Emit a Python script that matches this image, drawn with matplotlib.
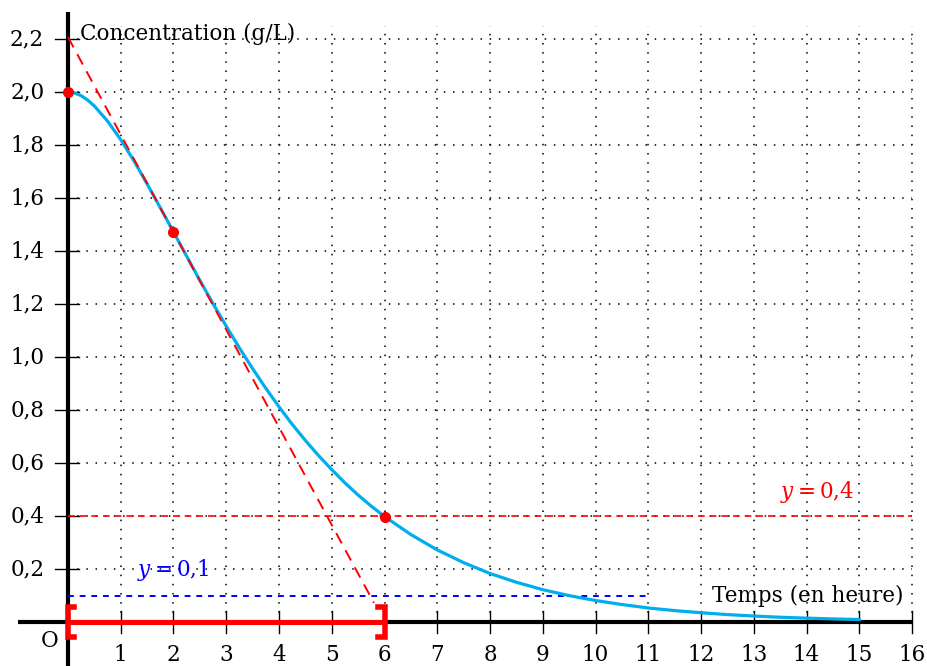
import matplotlib
matplotlib.use("Agg")
import matplotlib.pyplot as plt

# Data
t_vals = [0, 0.125, 0.25, 0.375, 0.5, 0.75, 1, 1.25, 1.5, 1.75, 2, 2.25, 2.5, 2.75,
          3, 3.25, 3.5, 3.75, 4, 4.25, 4.5, 4.75, 5, 5.25, 5.5, 5.75, 6, 6.5, 7,
          7.5, 8, 8.5, 9, 9.5, 10, 10.5, 11, 11.5, 12, 12.5, 13, 13.5, 14, 14.5, 15]
c_vals = [2.000, 1.996, 1.986, 1.969, 1.947, 1.890, 1.820, 1.740, 1.653, 1.563,
          1.472, 1.380, 1.289, 1.201, 1.116, 1.034, 0.956, 0.882, 0.812, 0.746,
          0.685, 0.628, 0.575, 0.525, 0.479, 0.437, 0.398, 0.330, 0.272, 0.224,
          0.183, 0.150, 0.122, 0.0995, 0.081, 0.066, 0.053, 0.043, 0.035, 0.028,
          0.0225, 0.018, 0.0146, 0.0117, 0.0094]
tangent_x = [0, 5.8]
tangent_y = [2.207, 0.072]
points_x = [0, 2, 6]
points_y = [2.0, 1.472, 0.398]
level_red = 0.4
level_blue = 0.1
blue_end = 11
interval = [0, 6]
x_ticks = list(range(1, 17))
y_ticks = [0.2, 0.4, 0.6, 0.8, 1.0, 1.2, 1.4, 1.6, 1.8, 2.0, 2.2]
y_tick_labels = ["0,2", "0,4", "0,6", "0,8", "1,0", "1,2", "1,4", "1,6", "1,8", "2,0", "2,2"]

plt.rcParams['font.family'] = ['DejaVu Serif']
plt.rcParams['mathtext.fontset'] = 'dejavuserif'
FS = 15.5

fig = plt.figure(figsize=(9.27, 6.66), dpi=100)
ax = fig.add_axes([0, 0, 1, 1])
ax.set_xlim(-1.289, 16.284)
ax.set_ylim(-0.166, 2.347)
ax.axis('off')

# grid
for x in x_ticks:
    ax.plot([x, x], [0, 2.25], color='black', lw=1.1, ls=(0, (1, 5)), zorder=1)
for y in y_ticks:
    ax.plot([0, 16], [y, y], color='black', lw=1.1, ls=(0, (1, 5)), zorder=1)

# axes
ax.plot([-0.95, 16], [0, 0], color='black', lw=3, zorder=3, solid_capstyle='butt')
ax.plot([0, 0], [-0.2, 2.3], color='black', lw=3, zorder=3, solid_capstyle='butt')
for x in x_ticks:
    ax.plot([x, x], [-0.04, 0.04], color='black', lw=1, zorder=3)
for y in y_ticks:
    ax.plot([-0.25, 0.2], [y, y], color='black', lw=1, zorder=3)

# tick labels
for x in x_ticks:
    ax.text(x, -0.125, str(x), ha='center', va='center', fontsize=FS)
for y, lab in zip(y_ticks, y_tick_labels):
    ax.text(-0.45, y, lab, ha='right', va='center', fontsize=FS)
ax.text(-0.35, -0.07, "O", ha='center', va='center', fontsize=FS)

# horizontal levels
ax.plot([0, 16], [level_red, level_red], color='red', lw=1.2, ls=(0, (4, 3)), zorder=4)
ax.plot([0, blue_end], [level_blue, level_blue], color='blue', lw=1.4, ls=(0, (3, 3)), zorder=4)

# curve
ax.plot(t_vals, c_vals, color='#00aeef', lw=2.3, zorder=5)
# tangent
ax.plot(tangent_x, tangent_y, color='red', lw=1.4, ls=(0, (6, 4)), zorder=6)
# points
ax.plot(points_x, points_y, 'o', color='red', ms=7, zorder=7)

# interval bracket
a, b = interval
ax.plot([a, b], [0, 0], color='red', lw=3.6, zorder=8, solid_capstyle='butt')
h = 0.055
hook = 0.12
ax.plot([a + hook, a, a, a + hook], [h, h, -h, -h], color='red', lw=4, zorder=8,
        solid_joinstyle='miter')
ax.plot([b - hook, b, b, b - hook], [h, h, -h, -h], color='red', lw=4, zorder=8,
        solid_joinstyle='miter')

# labels
ax.text(0.23, 2.22, "Concentration (g/L)", ha='left', va='center', fontsize=FS, zorder=9)
ax.text(15.83, 0.098, "Temps (en heure)", ha='right', va='center', fontsize=FS, zorder=9)
ax.text(14.2, 0.49, r"$y=0{,}4$", ha='center', va='center', fontsize=FS, color='red', zorder=9)
ax.text(2.0, 0.196, r"$y=0{,}1$", ha='center', va='center', fontsize=FS, color='blue', zorder=9)

fig.savefig("out.png", dpi=100)
